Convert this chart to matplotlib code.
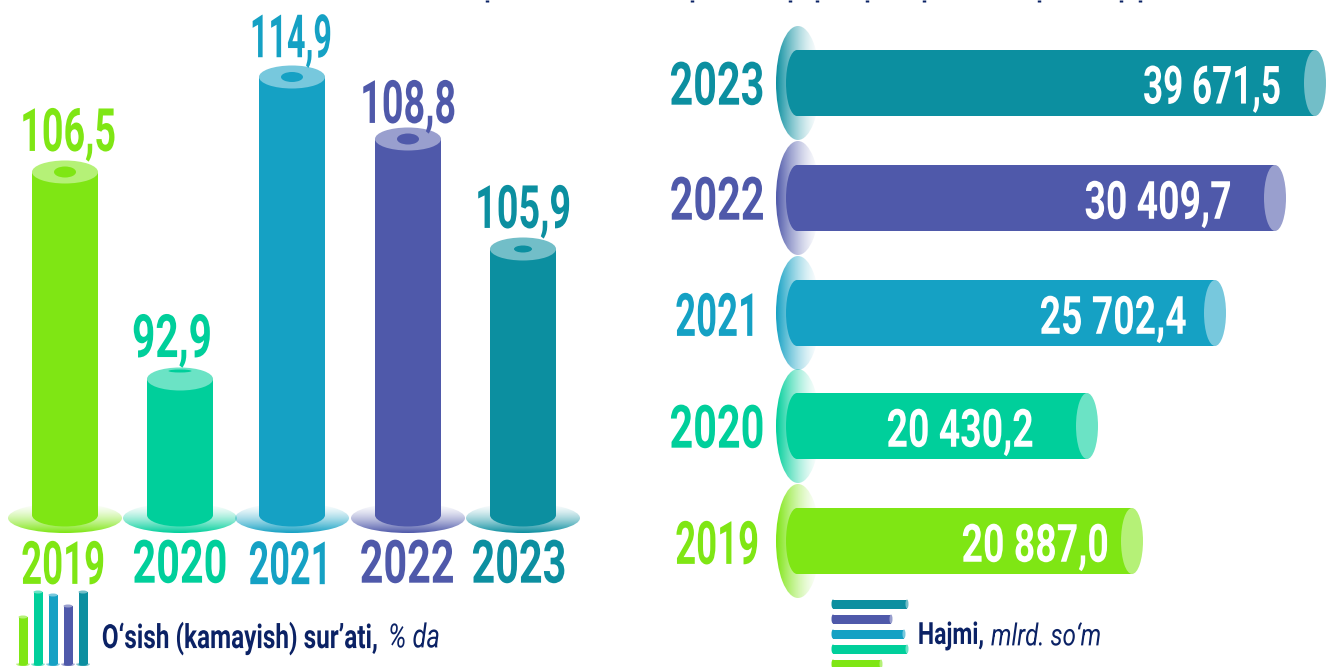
"""Ikki panel: o'sish sur'ati (ustunlar) va hajmi (gorizontal silindrlar)."""

import matplotlib

matplotlib.use("Agg")
import matplotlib.pyplot as plt
import numpy as np
from matplotlib.colors import to_rgb
from matplotlib.patches import Ellipse
from matplotlib.patheffects import AbstractPathEffect
from matplotlib.transforms import Affine2D

years = ["2019", "2020", "2021", "2022", "2023"]
colors = ["#7fe614", "#00cf9b", "#15a1c4", "#4f59aa", "#0c8fa0"]
growth_labels = ["106,5", "92,9", "114,9", "108,8", "105,9"]
volume_labels = ["20 887,0", "20 430,2", "25 702,4", "30 409,7", "39 671,5"]

# drawn lengths, the artwork is not to scale with the values
growth_drawn = [343, 136, 438, 376, 266]
volume_drawn = [335, 290, 418, 478, 518]
legend_growth_drawn = [47, 72, 69, 58, 72]
legend_volume_drawn = [48, 74, 71, 58, 74]

NAVY = "#0b2265"
FONT = "Roboto"

# the title is cropped away, only these descender stubs are left at the top edge
title_stub_x = [487, 692, 790, 817, 867, 924, 1039, 1121, 1140]


class Stretch(AbstractPathEffect):
    """Make a text taller around its anchor, the original uses a condensed font."""

    def __init__(self, cy, factor):
        super().__init__()
        self.cy = cy
        self.factor = factor

    def draw_path(self, renderer, gc, tpath, affine, rgbFace=None):
        stretch = Affine2D().translate(0, -self.cy).scale(1, self.factor).translate(0, self.cy)
        renderer.draw_path(gc, tpath, affine + stretch, rgbFace)


def lighter(color, amount=0.42):
    rgb = np.array(to_rgb(color))
    return tuple(rgb + (1 - rgb) * amount)


def narrow_text(ax, cx, cy, s, width, size, color, weight="bold", style="normal"):
    # size sets the drawn height: font shrunk to fit width, then stretched back up
    t = ax.text(cx, cy, s, ha="center", va="center_baseline", fontsize=size, color=color,
                family=FONT, weight=weight, style=style, zorder=8)
    natural = t.get_window_extent(ax.figure.canvas.get_renderer()).width
    shrink = width / natural
    t.set_fontsize(size * shrink)
    t.set_path_effects([Stretch(ax.transData.transform((cx, cy))[1], 1 / shrink)])
    return t


def fade_ellipse(ax, cx, cy, w, h, color, vertical=True, zorder=1):
    # colour fades out inside the ellipse: towards the top or towards the right
    rgb = to_rgb(color)
    ramp = np.linspace(0.02, 1.0, 64) ** 1.5
    if vertical:
        alpha = ramp[:, None]
    else:
        alpha = ramp[::-1][None, :]
    img = np.ones((*alpha.shape, 4))
    img[..., :3] = rgb
    img[..., 3] = alpha
    patch = Ellipse((cx, cy), w, h, transform=ax.transData, fc="none", ec="none")
    ax.add_patch(patch)
    im = ax.imshow(img, extent=(cx - w / 2, cx + w / 2, cy + h / 2, cy - h / 2),
                   aspect="auto", origin="upper", zorder=zorder)
    im.set_clip_path(patch)


def column(ax, x, base, length, width, ew, color, hole=None, zorder=3):
    ax.bar(x, length, width=width, bottom=base - length, color=color, zorder=zorder)
    ax.add_patch(Ellipse((x, base), width, ew, fc=color, ec="none", zorder=zorder))
    top = base - length
    ax.add_patch(Ellipse((x, top), width, ew, fc=lighter(color), ec="none", zorder=zorder + 1))
    if hole:
        ax.add_patch(Ellipse((x, top + hole[2]), hole[0], hole[1], fc=color, ec="none", zorder=zorder + 2))


def tube(ax, y, left, length, height, ew, color, zorder=3):
    ax.barh(y, length, height=height, left=left, color=color, zorder=zorder)
    ax.add_patch(Ellipse((left, y), ew, height, fc=color, ec="none", zorder=zorder))
    ax.add_patch(Ellipse((left + length, y), ew, height, fc=lighter(color), ec="none", zorder=zorder + 1))


fig = plt.figure(figsize=(13.26, 6.67), dpi=100)
ax = fig.add_axes([0, 0, 1, 1])
ax.set_xlim(0, 1326)
ax.set_ylim(667, 0)
ax.axis("off")

ax.vlines(title_stub_x, 0, 2, color=NAVY, lw=2.5)

# left panel
col_x = [65, 180, 292, 408, 523]
col_base = 515
holes = [(22, 11, 0), (23, 3, -8), (22, 10, 0), (22, 11, 0), (18, 7, 0)]
growth_label_x = [68, 172, 291, 408, 523]
growth_label_y = [128, 335, 35, 100, 205]
growth_label_w = [96, 80, 82, 96, 96]
year_x = [63, 180, 290, 407, 519]
year_w = [84, 95, 83, 95, 95]
for i, year in enumerate(years):
    fade_ellipse(ax, col_x[i], 518, 114, 30, colors[i])
    column(ax, col_x[i], col_base, growth_drawn[i], 66, 23, colors[i], holes[i])
    narrow_text(ax, growth_label_x[i], growth_label_y[i], growth_labels[i], growth_label_w[i], 43, colors[i])
    narrow_text(ax, year_x[i], 561, year, year_w[i], 43, colors[i])

# right panel
tube_y = [541, 426, 313, 198, 83]
tube_left = 797
value_x = [1035, 960, 1113, 1158, 1212]
value_w = [147, 147, 147, 147, 138]
for i, year in enumerate(years):
    fade_ellipse(ax, tube_left + 1, tube_y[i], 44, 114, colors[i], vertical=False)
    tube(ax, tube_y[i], tube_left, volume_drawn[i], 66, 22, colors[i])
    narrow_text(ax, value_x[i], tube_y[i] + 1, volume_labels[i], value_w[i], 38, "white")
    narrow_text(ax, 717, tube_y[i], year, 84 if i in (0, 2) else 95, 43, colors[i])

# legend icons, small copies of the marks
for i, length in enumerate(legend_growth_drawn):
    x = 23 + 15 * i
    fade_ellipse(ax, x, 664, 14, 4, colors[i])
    column(ax, x, 664, length, 9, 3, colors[i])
for i, length in enumerate(legend_volume_drawn):
    y = 664 - 15 * i
    tube(ax, y, 833, length, 9, 3, colors[i])

narrow_text(ax, 240, 635, "O‘sish (kamayish) sur’ati,", 276, 24, NAVY)
narrow_text(ax, 414, 635, "% da", 52, 24, NAVY, weight="normal", style="italic")
narrow_text(ax, 951, 632, "Hajmi,", 66, 22, NAVY)
narrow_text(ax, 1046, 634, "mlrd. so‘m", 110, 22, NAVY, weight="normal", style="italic")

ax.set_xlim(0, 1326)
ax.set_ylim(667, 0)
fig.savefig("out.png", dpi=100)
